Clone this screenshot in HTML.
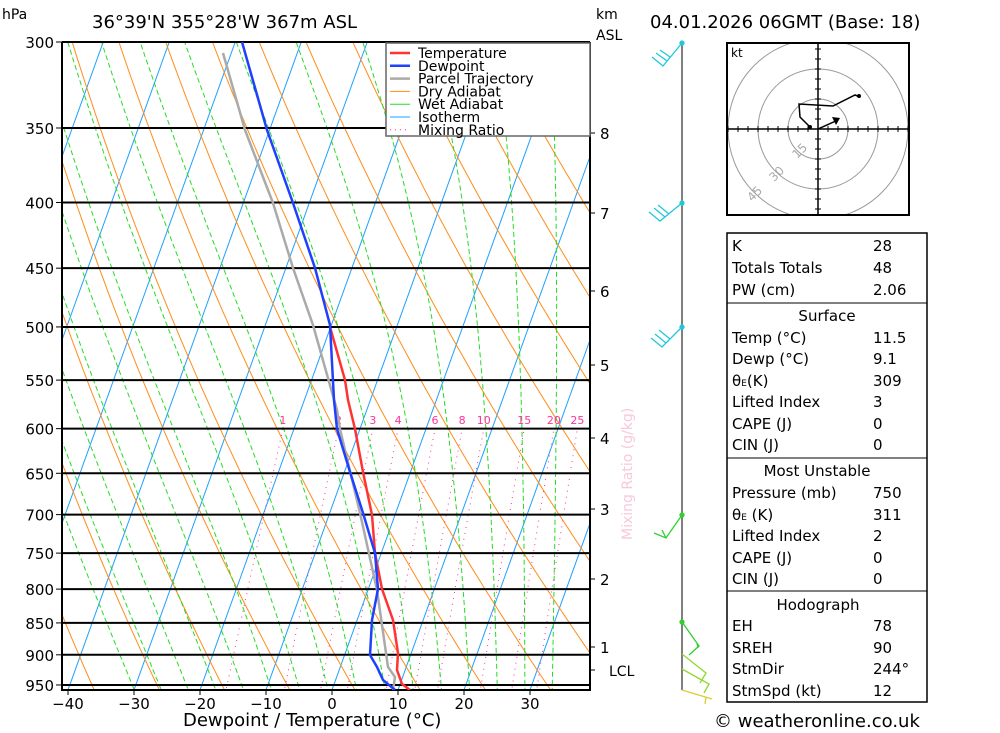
<!DOCTYPE html>
<html><head><meta charset="utf-8"><style>
body{margin:0;background:#fff;width:1000px;height:733px;overflow:hidden}
svg{display:block}
text{font-family:"DejaVu Sans","Liberation Sans",sans-serif;fill:#000}
</style></head><body>
<svg id="s" width="1000" height="733" viewBox="0 0 1000 733" xmlns="http://www.w3.org/2000/svg">
<defs><clipPath id="cp"><rect x="62" y="42" width="528" height="648"/></clipPath>
<clipPath id="hc"><rect x="727" y="43" width="182" height="172"/></clipPath></defs>
<g id="bg" clip-path="url(#cp)"></g>
<g id="fg"></g>
<text x="2" y="19" font-size="14">hPa</text>
<text x="92" y="28" font-size="18">36°39'N  355°28'W  367m  ASL</text>
<text x="596" y="19" font-size="14">km</text>
<text x="596" y="40" font-size="14">ASL</text>
<text x="650" y="28" font-size="18">04.01.2026  06GMT  (Base: 18)</text>
<text x="632" y="540" font-size="14" fill="#f8c8dc" style="fill:#f8c8dc" transform="rotate(-90 632 540)">Mixing Ratio (g/kg)</text>
<text x="183" y="726" font-size="18">Dewpoint / Temperature (°C)</text>
<text x="714" y="727" font-size="18">© weatheronline.co.uk</text>
<!-- hodograph -->
<g clip-path="url(#hc)" fill="none" stroke="#999">
<circle cx="818" cy="129" r="30"/><circle cx="818" cy="129" r="60"/><circle cx="818" cy="129" r="90"/>
</g>
<text x="731" y="57" font-size="12">kt</text>
<text x="793" y="155" font-size="12" fill="#aaa" style="fill:#aaa" transform="rotate(-45 800 152)">15</text>
<text x="770" y="178" font-size="12" fill="#aaa" style="fill:#aaa" transform="rotate(-45 777 175)">30</text>
<text x="748" y="198" font-size="12" fill="#aaa" style="fill:#aaa" transform="rotate(-45 755 195)">45</text>
<g id="hod" stroke="#000" clip-path="url(#hc)"></g>
<rect x="727" y="43" width="182" height="172" fill="none" stroke="#000" stroke-width="2"/>
<polyline points="810,127 800,117 799,104 833,106 855,95 860,97" fill="none" stroke="#000" stroke-width="1.5"/>
<polyline points="818,129 838,120" fill="none" stroke="#000" stroke-width="1.5"/>
<polygon points="840,118 832,117 836,125" fill="#000"/>
<circle cx="810" cy="127" r="2"/><circle cx="859" cy="96" r="2"/>
<!-- table -->
<g font-size="15">
<rect x="727" y="233" width="200" height="469" fill="none" stroke="#000" stroke-width="1.5"/>
<line x1="727" y1="303" x2="927" y2="303" stroke="#000"/>
<line x1="727" y1="458" x2="927" y2="458" stroke="#000"/>
<line x1="727" y1="591" x2="927" y2="591" stroke="#000"/>
<text x="732" y="251">K</text><text x="873" y="251">28</text>
<text x="732" y="273">Totals Totals</text><text x="873" y="273">48</text>
<text x="732" y="295">PW (cm)</text><text x="873" y="295">2.06</text>
<text x="827" y="321" text-anchor="middle">Surface</text>
<text x="732" y="343">Temp (°C)</text><text x="873" y="343">11.5</text>
<text x="732" y="364">Dewp (°C)</text><text x="873" y="364">9.1</text>
<text x="732" y="386">θ<tspan font-size="9">E</tspan>(K)</text><text x="873" y="386">309</text>
<text x="732" y="407">Lifted Index</text><text x="873" y="407">3</text>
<text x="732" y="429">CAPE (J)</text><text x="873" y="429">0</text>
<text x="732" y="450">CIN (J)</text><text x="873" y="450">0</text>
<text x="817" y="476" text-anchor="middle">Most Unstable</text>
<text x="732" y="498">Pressure (mb)</text><text x="873" y="498">750</text>
<text x="732" y="520">θ<tspan font-size="9">E</tspan> (K)</text><text x="873" y="520">311</text>
<text x="732" y="541">Lifted Index</text><text x="873" y="541">2</text>
<text x="732" y="563">CAPE (J)</text><text x="873" y="563">0</text>
<text x="732" y="584">CIN (J)</text><text x="873" y="584">0</text>
<text x="818" y="610" text-anchor="middle">Hodograph</text>
<text x="732" y="631">EH</text><text x="873" y="631">78</text>
<text x="732" y="653">SREH</text><text x="873" y="653">90</text>
<text x="732" y="674">StmDir</text><text x="873" y="674">244°</text>
<text x="732" y="696">StmSpd (kt)</text><text x="873" y="696">12</text>
</g>
<!-- wind barbs -->
<line x1="682" y1="42" x2="682" y2="690" stroke="#555" stroke-width="1.5"/>
<g fill="none" stroke-width="1.3">
<g stroke="#20c8d8"><polyline points="682,43 663,66 652,57"/><line x1="667" y1="61" x2="656" y2="53"/><line x1="670" y1="57" x2="660" y2="50"/><circle cx="682" cy="43" r="2" fill="#20c8d8"/>
<polyline points="682,203 660,221 649,212"/><line x1="665" y1="217" x2="654" y2="208"/><line x1="669" y1="214" x2="658" y2="205"/><circle cx="682" cy="203" r="2" fill="#20c8d8"/>
<polyline points="682,327 662,347 651,338"/><line x1="666" y1="343" x2="655" y2="334"/><line x1="670" y1="339" x2="659" y2="330"/><circle cx="682" cy="327" r="2" fill="#20c8d8"/></g>
<g stroke="#30d030"><polyline points="682,515 666,538 654,533"/><line x1="666" y1="538" x2="662" y2="530"/><circle cx="682" cy="515" r="2" fill="#30d030"/>
<polyline points="682,622 699,646 689,655"/><line x1="697" y1="643" x2="698" y2="648"/><circle cx="682" cy="622" r="2" fill="#30d030"/></g>
<g stroke="#90d830"><polyline points="682,654 706,673 700,683"/><polyline points="682,669 709,684 704,693"/></g>
<g stroke="#d8d030"><polyline points="682,690 712,699"/><line x1="706" y1="697" x2="705" y2="704"/></g>
</g>
<script>
(function(){
var NS="http://www.w3.org/2000/svg";
var bg=document.getElementById('bg'),fg=document.getElementById('fg');
function Y(p){return 42+557.8*Math.log(p/300);}
function X(T,p){return 332+6.6*T+0.36*(690-Y(p));}
function el(par,tag,a){var e=document.createElementNS(NS,tag);for(var k in a)e.setAttribute(k,a[k]);par.appendChild(e);return e;}
function poly(par,pts,st,w,dash){var s=pts.map(function(q){return q[0].toFixed(1)+','+q[1].toFixed(1)}).join(' ');var a={points:s,fill:'none',stroke:st,'stroke-width':w};if(dash)a['stroke-dasharray']=dash;return el(par,'polyline',a);}
var ps=[];for(var p=1050;p>=280;p-=10)ps.push(p);
for(var T=-130;T<=50;T+=10){poly(bg,[[X(T,1050),Y(1050)],[X(T,280),Y(280)]],'#1ea0ff',1);}
for(var th=230;th<=500;th+=10){poly(bg,ps.map(function(p){return [X(th*Math.pow(p/1000,0.286)-273.15,p),Y(p)]}),'#ff8c1a',1);}
function es(T){return 6.112*Math.exp(17.67*T/(T+243.5));}
for(var t0=-24;t0<=36;t0+=4){var T=t0,pts=[];for(var p=1050;p>=280;p-=2){
 if(p%10==0)pts.push([X(T,p),Y(p)]);
 var Tk=T+273.15,rs=0.622*es(T)/(p-es(T));var dT=(287*Tk+2.5e6*rs)/(1004+2.5e6*2.5e6*rs*0.622/(287*Tk*Tk))/p;T-=dT*2;}
 poly(bg,pts,'#22dd22',1,'5,3');}
function tdw(w,p){var e=w*p/(622+w),l=Math.log(e/6.112);var td=243.5*l/(17.67-l);return td+(9+(td+23)*0.2)/6.6*1.0*6.6/6.6;}
function tdx(w,p){var e=w*p/(622+w),l=Math.log(e/6.112);var td=243.5*l/(17.67-l);return X(td,p)+9+(td+23)*0.2*6.6/6.6*1.3;}
[1,2,3,4,6,8,10,15,20,25].forEach(function(w){var pts=[];for(var p=1050;p>=600;p-=10){pts.push([tdx(w,p),Y(p)]);}
 poly(bg,pts,'#ff3399',1,'1,5');
 var t=el(bg,'text',{x:tdx(w,600),y:424,'font-size':11,'text-anchor':'middle',fill:'#ff3399',style:'fill:#ff3399'});t.textContent=w;});
[300,350,400,450,500,550,600,650,700,750,800,850,900,950].forEach(function(p){var y=Y(p);el(fg,'line',{x1:62,y1:y,x2:590,y2:y,stroke:'#000','stroke-width':2});
 el(fg,'line',{x1:56,y1:y,x2:62,y2:y,stroke:'#000'});var t=el(fg,'text',{x:54,y:y+6,'font-size':15,'text-anchor':'end'});t.textContent=p;});
el(fg,'line',{x1:62,y1:42,x2:62,y2:691,stroke:'#000','stroke-width':2});
el(fg,'line',{x1:590,y1:42,x2:590,y2:691,stroke:'#000','stroke-width':2});
el(fg,'line',{x1:62,y1:690,x2:590,y2:690,stroke:'#000','stroke-width':2});
for(var T=-40;T<=30;T+=10){var x=332+6.6*T;el(fg,'line',{x1:x,y1:690,x2:x,y2:695,stroke:'#000'});var t=el(fg,'text',{x:x,y:709,'font-size':15,'text-anchor':'middle'});t.textContent=(T<0?'\u2212'+(-T):T);}
[[8,133],[7,213],[6,291],[5,365],[4,438],[3,509],[2,579],[1,647]].forEach(function(k){el(fg,'line',{x1:590,y1:k[1],x2:595,y2:k[1],stroke:'#000'});var t=el(fg,'text',{x:600,y:k[1]+6,'font-size':15});t.textContent=k[0];});
el(fg,'line',{x1:590,y1:670,x2:595,y2:670,stroke:'#000'});var t=el(fg,'text',{x:609,y:676,'font-size':14});t.textContent='LCL';
var clip=el(fg,'g',{'clip-path':'url(#cp)'});
poly(clip,[[223,53],[245,130],[273,203],[293,268],[313,325],[337,410],[340,429],[360,513],[377,590],[388,667],[395,677],[393,690]],'#aaaaaa',2.5);
poly(clip,[[330,327],[345,380],[348,400],[355,429],[363,472],[372,515],[375,553],[382,589],[393,620],[398,653],[397,670],[402,684],[410,690]],'#ff3333',2.5);
poly(clip,[[242,42],[267,130],[293,203],[315,268],[330,325],[334,400],[337,429],[350,472],[363,513],[375,553],[378,589],[372,620],[370,655],[377,667],[383,680],[395,690]],'#2040ff',2.5);
var lg=el(fg,'g',{});
el(lg,'rect',{x:386,y:43,width:204,height:93,fill:'#fff',stroke:'#666','stroke-width':1.5});
[['Temperature','#ff3333',2.5,''],['Dewpoint','#2040ff',2.5,''],['Parcel Trajectory','#aaaaaa',2.5,''],['Dry Adiabat','#ff8c1a',1,''],['Wet Adiabat','#22dd22',1,''],['Isotherm','#1ea0ff',1,''],['Mixing Ratio','#ff3399',1,'1,4']].forEach(function(r,i){var y=53+i*12.8;var a={x1:390,y1:y,x2:410,y2:y,stroke:r[1],'stroke-width':r[2]};if(r[3])a['stroke-dasharray']=r[3];el(lg,'line',a);var t=el(lg,'text',{x:418,y:y+5,'font-size':14});t.textContent=r[0];});
var h=document.getElementById('hod');
el(h,'line',{x1:727,y1:129,x2:909,y2:129,'stroke-width':1.5});el(h,'line',{x1:818,y1:43,x2:818,y2:215,'stroke-width':1.5});
for(var i=-9;i<=9;i++){if(!i)continue;var d=i*10;el(h,'line',{x1:818+d,y1:126,x2:818+d,y2:132});el(h,'line',{x1:815,y1:129+d,x2:821,y2:129+d});}
})();
</script>
</svg>
</body></html>
